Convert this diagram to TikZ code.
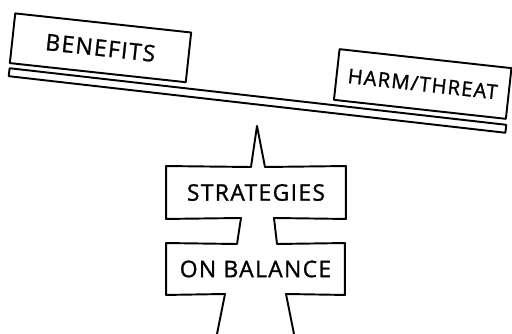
\documentclass[tikz,border=0pt]{standalone}
\usepackage{fontspec}
\newfontfamily\handfont[LetterSpace=6,FakeBold=1.2]{Open Sans}
\usepackage{tikz}

\begin{document}
\begin{tikzpicture}[x=0.02cm, y=-0.02cm, line width=1.1pt, line join=round,
    plate/.style={draw, rectangle, inner sep=0pt, font=\handfont\fontsize{13}{15}\selectfont}]
				\useasboundingbox (0,0) rectangle (512,334);
				
				% Beam and the two weights on it
				\node (beam) [draw, rectangle, inner sep=0pt, minimum width=10cm, minimum height=0.16cm, rotate=-6.5] at (257.5,100.5) {};
				\node (benefits) [plate, minimum width=3.54cm, minimum height=1cm, rotate=-6.2] at (100.5,47.8) {BENEFITS\hspace{0.3cm}};
				\node (harm) [plate, minimum width=3.46cm, minimum height=1.02cm, rotate=-6.3,
				  font=\handfont\fontsize{11.5}{14}\selectfont] at (422.7,84) {HARM/THREAT};
				
				% Pillar
				\node (strategies) [plate, draw=none, minimum width=3.56cm, minimum height=1.02cm] at (256,192.5) {STRATEGIES};
				\node (onbalance) [plate, draw=none, minimum width=3.54cm, minimum height=1cm] at (255.5,269) {ON BALANCE};
				\coordinate (tip) at (257,126);
				\coordinate (footL) at (217,334);
				\coordinate (footR) at (294,334);
				
				\draw (footL) -- (225,294) -- (onbalance.south west) -- (onbalance.north west)
				  -- (237,244) -- (241,218) -- (strategies.south west) -- (strategies.north west)
				  -- (251,167) -- (tip) -- (265,167) -- (strategies.north east) -- (strategies.south east)
				  -- (274,218) -- (277,244) -- (onbalance.north east) -- (onbalance.south east)
				  -- (286,294) -- (footR);
				
			\end{tikzpicture}
\end{document}
